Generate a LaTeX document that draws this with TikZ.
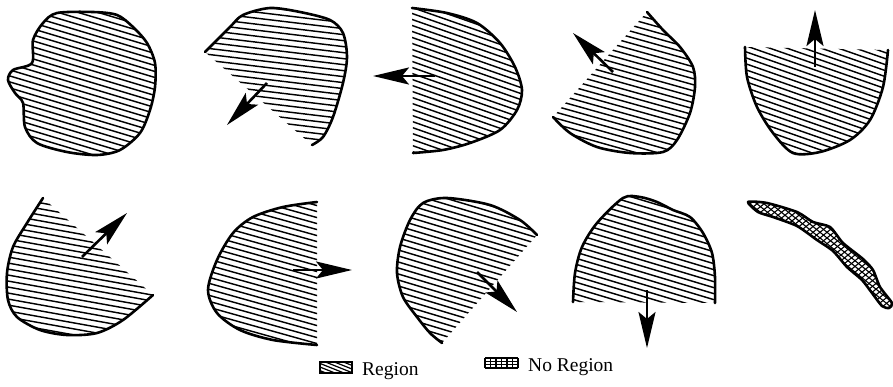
\documentclass[tikz,border=0pt]{standalone}
\usepackage{fontspec}
\setmainfont{Liberation Serif}
\usetikzlibrary{arrows.meta}
\tikzset{
  outline/.style={line width=2.6pt, line cap=round, line join=round},
  hatchline/.style={line width=1.45pt},
  gridline/.style={line width=1.1pt},
  arr/.style={line width=2.6pt, -{Stealth[length=36pt,width=17pt,inset=7pt]}},
  legtext/.style={font=\fontsize{19.5}{21}\selectfont, inner sep=0pt, anchor=base west},
}
\newcommand\hatchlines[4]{%
  \foreach \k in {-#4,...,#4}{%
    \draw[hatchline] ({#1-120},{#2+\k*6-120*#3}) -- ({#1+120},{#2+\k*6+120*#3});}}
\begin{document}
\begin{tikzpicture}[x=1pt,y=-1pt]
\useasboundingbox (0,0) rectangle (893,386);
\fill[white] (0,0) rectangle (893,386);

% ---------- Shape 1 (closed) ----------
\def\shapeA{(57,13)(93,12)(117,15)(133,27)(147,43)(155,63)(155,87)(150,110)(140,133)(120,150)(97,155)(67,152)(37,143)(25,127)(23,103)(15,93)(8,80)(13,70)(32,63)(33,40)(43,23)}
\begin{scope}
  \clip plot[smooth cycle, tension=0.5] coordinates {\shapeA};
  \hatchlines{80}{85}{0.3}{30}
\end{scope}
\draw[outline] plot[smooth cycle, tension=0.5] coordinates {\shapeA};

% ---------- Shape 2 ----------
\def\shapeB{(205,52)(230,27)(243,15)(270,8)(300,12)(330,20)(343,33)(347,57)(343,83)(333,117)(323,137)(312,145)}
\begin{scope}
  \clip plot[smooth, tension=0.5] coordinates {\shapeB} -- cycle;
  \hatchlines{280}{75}{0.12}{30}
\end{scope}
\draw[outline] plot[smooth, tension=0.5] coordinates {\shapeB};
\draw[arr] (267,83) -- (227,125);

% ---------- Shape 3 ----------
\def\shapeC{(412,8)(447,13)(477,23)(500,43)(515,67)(522,90)(517,110)(500,130)(470,143)(443,150)(413,153)}
\begin{scope}
  \clip plot[smooth, tension=0.5] coordinates {\shapeC} -- cycle;
  \hatchlines{465}{80}{0.35}{30}
\end{scope}
\draw[outline] plot[smooth, tension=0.5] coordinates {\shapeC};
\draw[arr] (435,76) -- (373,76);

% ---------- Shape 4 ----------
\def\shapeD{(647,12)(663,30)(680,47)(693,67)(695,87)(690,113)(677,140)(663,152)(630,153)(597,147)(570,133)(553,117)}
\begin{scope}
  \clip plot[smooth, tension=0.5] coordinates {\shapeD} -- cycle;
  \hatchlines{630}{85}{0.28}{30}
\end{scope}
\draw[outline] plot[smooth, tension=0.5] coordinates {\shapeD};
\draw[arr] (613,72) -- (573,33);

% ---------- Shape 5 ----------
\def\shapeE{(745,47)(747,77)(757,107)(773,133)(793,153)(820,152)(850,140)(870,120)(883,87)(888,50)}
\begin{scope}
  \clip plot[smooth, tension=0.5] coordinates {\shapeE} -- cycle;
  \hatchlines{815}{100}{0.35}{30}
\end{scope}
\draw[outline] plot[smooth, tension=0.5] coordinates {\shapeE};
\draw[arr] (815,67) -- (815,10);

% ---------- Shape 6 ----------
\def\shapeF{(43,198)(27,223)(13,247)(7,273)(8,300)(17,317)(40,330)(67,335)(97,333)(123,320)(153,295)}
\begin{scope}
  \clip plot[smooth, tension=0.5] coordinates {\shapeF} -- cycle;
  \hatchlines{80}{270}{0.18}{30}
\end{scope}
\draw[outline] plot[smooth, tension=0.5] coordinates {\shapeF};
\draw[arr] (82,257) -- (127,213);

% ---------- Shape 7 ----------
\def\shapeG{(317,202)(283,207)(253,217)(233,233)(217,260)(208,290)(217,313)(240,330)(273,340)(317,345)}
\begin{scope}
  \clip plot[smooth, tension=0.5] coordinates {\shapeG} -- cycle;
  \hatchlines{265}{275}{0.28}{30}
\end{scope}
\draw[outline] plot[smooth, tension=0.5] coordinates {\shapeG};
\draw[arr] (293,270) -- (352,270);

% ---------- Shape 8 ----------
\def\shapeH{(537,235)(520,220)(490,205)(447,198)(423,203)(410,220)(400,247)(397,273)(403,297)(417,317)(430,333)(442,343)}
\begin{scope}
  \clip plot[smooth, tension=0.5] coordinates {\shapeH} -- cycle;
  \hatchlines{465}{270}{0.3}{30}
\end{scope}
\draw[outline] plot[smooth, tension=0.5] coordinates {\shapeH};
\draw[arr] (477,272) -- (517,312);

% ---------- Shape 9 ----------
\def\shapeI{(573,302)(575,273)(582,247)(597,223)(623,198)(640,197)(657,202)(673,210)(690,217)(703,233)(712,253)(715,277)(715,303)}
\begin{scope}
  \clip plot[smooth, tension=0.5] coordinates {\shapeI} -- cycle;
  \hatchlines{645}{255}{0.3}{30}
\end{scope}
\draw[outline] plot[smooth, tension=0.5] coordinates {\shapeI};
\draw[arr] (647,290) -- (647,348);

% ---------- Shape 10 (crosshatched band) ----------
\def\shapeJ{(748,202)(767,203)(797,212)(813,222)(830,227)(843,243)(863,259)(873,270)(880,287)(892,303)(889,308)(882,306)(872,293)(862,280)(847,267)(833,251)(817,240)(797,226)(773,217)(758,212)}
\begin{scope}
  \clip plot[smooth cycle, tension=0.4] coordinates {\shapeJ};
  \foreach \k in {-30,...,30}{
    \draw[gridline] ({820+\k*7-80},190) -- ({820+\k*7+80},320);
    \draw[gridline] ({820+\k*7+80},190) -- ({820+\k*7-80},320);
  }
\end{scope}
\draw[outline] plot[smooth cycle, tension=0.4] coordinates {\shapeJ};

% ---------- Legend ----------
\begin{scope}
  \clip (320,362) rectangle (352,373);
  \foreach \k in {-8,...,8}{
    \draw[line width=1.2pt] (300,{367+\k*3.6-20*0.4}) -- (372,{367+\k*3.6+52*0.4});
  }
\end{scope}
\draw[line width=1.1pt] (320,362) rectangle (352,373);
\node[legtext] (lreg) at (362,375) {Region};

\begin{scope}
  \foreach \xx in {485,490.5,...,518}{ \draw[line width=1.2pt] (\xx,358) -- (\xx,368); }
  \foreach \yy in {358,361.33,364.67,368}{ \draw[line width=1.2pt] (485,\yy) -- (518,\yy); }
\end{scope}
\node[legtext] (lnoreg) at (528,371) {No Region};
\end{tikzpicture}
\end{document}
